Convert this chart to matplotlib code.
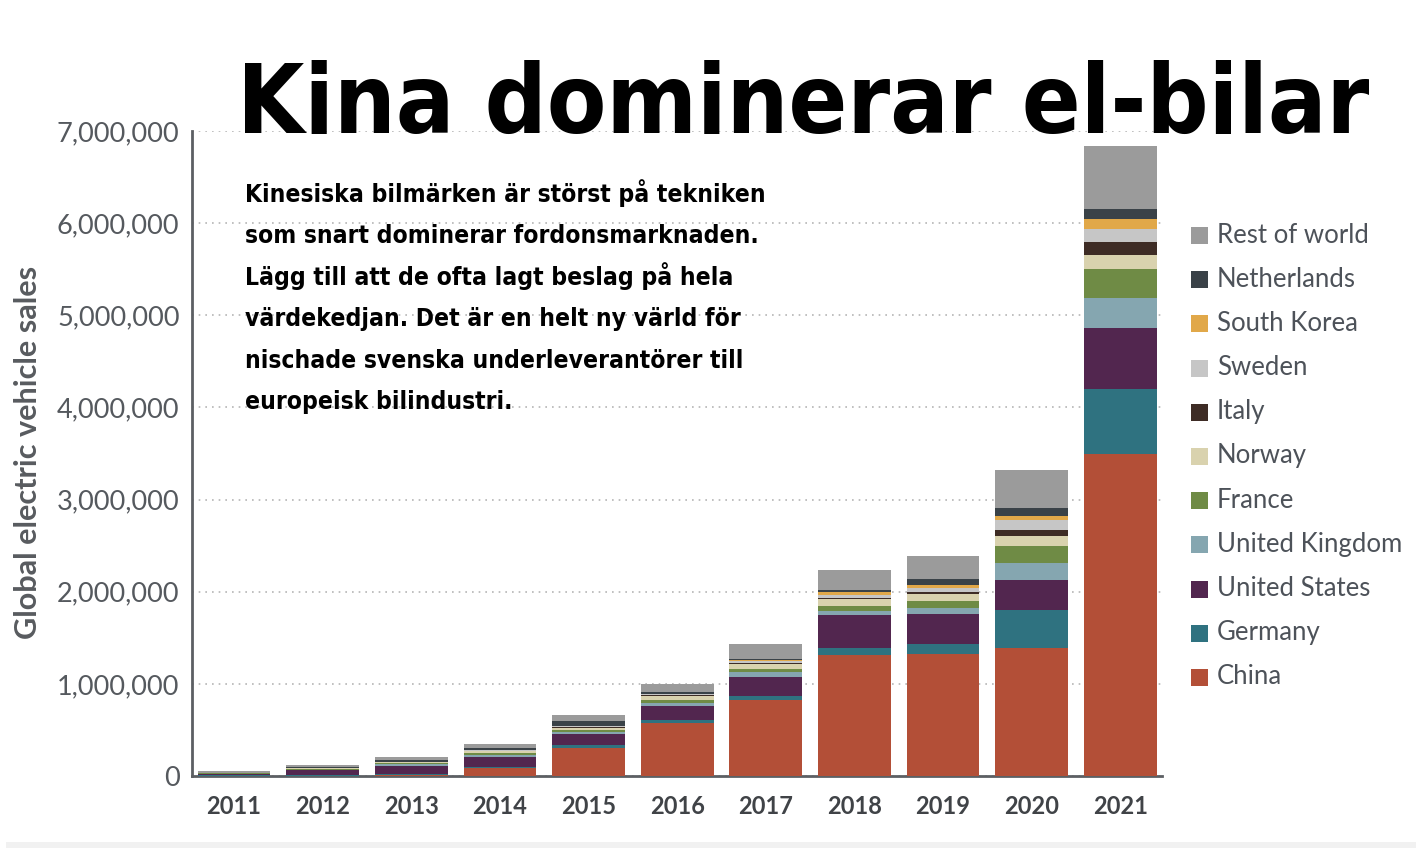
import numpy as np
import matplotlib.pyplot as plt
from matplotlib import font_manager
from matplotlib.font_manager import FontProperties
from matplotlib.patches import Rectangle


# ---------- data (thousands of vehicles) ----------
years = ["2011", "2012", "2013", "2014", "2015", "2016",
         "2017", "2018", "2019", "2020", "2021"]

china = [4, 5, 15, 83, 300, 574, 820, 1310, 1320, 1390, 3500]
germany = [2, 4, 10, 14, 32, 29, 47, 80, 108, 410, 695]
united_states = [18, 53, 83, 112, 119, 155, 210, 356, 325, 330, 665]
united_kingdom = [1, 7, 18, 15, 26, 36, 50, 49, 72, 180, 325]
france = [3, 11, 11, 29, 25, 36, 36, 55, 70, 190, 315]
norway = [2, 5, 12, 18, 21, 40, 55, 68, 79, 110, 150]
italy = [0, 1, 1, 2, 8, 7, 10, 15, 26, 60, 150]
sweden = [0, 1, 2, 4, 10, 13, 15, 30, 40, 110, 140]
south_korea = [0, 1, 1, 1, 3, 5, 11, 37, 35, 40, 105]
netherlands = [1, 9, 17, 22, 52, 20, 21, 20, 65, 90, 105]
rest_of_world = [23, 22, 36, 43, 61, 80, 159, 212, 253, 410, 690]

series = [
    ("China", china, "#b34f37"),
    ("Germany", germany, "#2f7280"),
    ("United States", united_states, "#52264f"),
    ("United Kingdom", united_kingdom, "#85a6b0"),
    ("France", france, "#6f8b45"),
    ("Norway", norway, "#d9d2ae"),
    ("Italy", italy, "#3e2c25"),
    ("Sweden", sweden, "#c6c6c6"),
    ("South Korea", south_korea, "#e1a849"),
    ("Netherlands", netherlands, "#3a4248"),
    ("Rest of world", rest_of_world, "#9b9b9b"),
]

title = "Kina dominerar el-bilar"
blurb = [
    "Kinesiska bilmärken är störst på tekniken",
    "som snart dominerar fordonsmarknaden.",
    "Lägg till att de ofta lagt beslag på hela",
    "värdekedjan. Det är en helt ny värld för",
    "nischade svenska underleverantörer till",
    "europeisk bilindustri.",
]

# ---------- fonts ----------
ttf = font_manager.fontManager.ttflist
names = {f.name for f in ttf}
sans = "Lato" if "Lato" in names else "DejaVu Sans"


def pick_condensed():
    # look for any bold narrow / condensed face, narrowest first
    order = ["ultra-condensed", "extra-condensed", "condensed", "semi-condensed"]
    best = None
    for f in ttf:
        st = str(f.stretch)
        narrowish = st in order or "Narrow" in f.name or "Condensed" in f.name
        bold = f.weight in (700, 800, 900, "bold", "heavy", "black")
        if narrowish and bold and "Mono" not in f.name and "Serif" not in f.name:
            rank = order.index(st) if st in order else 2
            if best is None or rank < best[0]:
                best = (rank, f.fname)
    if best:
        return FontProperties(fname=best[1])
    return FontProperties(family="DejaVu Sans", weight="bold")


narrow_fp = pick_condensed()

W, H = 1416, 868
fig = plt.figure(figsize=(W / 100, H / 100), dpi=100)
fig.patch.set_facecolor("white")


def px(x, y):
    return x / W, 1 - y / H


# axes box: x 192..1162 px, y 131..776 px
ax = fig.add_axes([192 / W, 1 - 776 / H, 970 / W, 645 / H])

x = np.arange(len(years))
bottom = np.zeros(len(years))
for name, vals, col in series:
    v = np.array(vals) * 1000
    ax.bar(x, v, width=0.82, bottom=bottom, color=col, linewidth=0, zorder=3)
    bottom += v

ax.set_xlim(-0.474, 10.47)
ax.set_ylim(0, 7_000_000)
ax.set_yticks(np.arange(0, 7_000_001, 1_000_000))
ax.set_yticklabels([f"{int(t):,}" for t in ax.get_yticks()])
ax.set_xticks(x)
ax.set_xticklabels(years)

ax.grid(axis="y", linestyle=(0, (1, 3)), color="#b5b5b5", linewidth=1.2, zorder=0)
for s in ["top", "right"]:
    ax.spines[s].set_visible(False)
for s in ["left", "bottom"]:
    ax.spines[s].set_color("#5c5f63")
    ax.spines[s].set_linewidth(2)

ax.tick_params(axis="both", length=0)
ax.tick_params(axis="y", pad=9, labelsize=19.5, labelcolor="#55595e")
ax.tick_params(axis="x", pad=14, labelsize=17, labelcolor="#404347")
for lab in ax.get_yticklabels():
    lab.set_fontfamily(sans)
for lab in ax.get_xticklabels():
    lab.set_fontfamily(sans)
    lab.set_fontweight("bold")

# y label
ylab = fig.text(*px(28, 452), "Global electric vehicle sales", rotation=90,
                ha="center", va="center", fontsize=18, fontweight="bold",
                color="#585b5f", family=sans)

# legend drawn by hand (top = Rest of world)
for i, (name, vals, col) in enumerate(reversed(series)):
    yc = 235 + i * 44.2
    fig.add_artist(Rectangle(px(1191, yc + 9), 17 / W, 17 / H,
                             transform=fig.transFigure, color=col, linewidth=0))
    fig.text(*px(1217, yc), name, ha="left", va="center", fontsize=18.5,
             color="#4d5259", family=sans)

# title and blurb
t = fig.text(*px(237, 133), title, ha="left", va="baseline",
             fontproperties=narrow_fp, color="black")
t.set_fontsize(91)
lines = []
for i, line in enumerate(blurb):
    ln = fig.text(*px(245, 202 + i * 41.4), line, ha="left", va="baseline",
                  fontproperties=narrow_fp, color="black")
    ln.set_fontsize(21)
    lines.append(ln)

# scale fonts so widths match the picture
fig.canvas.draw()
r = fig.canvas.get_renderer()
w = t.get_window_extent(r).width
t.set_fontsize(t.get_fontsize() * 1133 / w)
w = lines[0].get_window_extent(r).width
fs = min(lines[0].get_fontsize() * 520 / w, 27)
for ln in lines:
    ln.set_fontsize(fs)
h = ylab.get_window_extent(r).height
ylab.set_fontsize(ylab.get_fontsize() * 375 / h)

# thin light strip near the bottom edge
fig.add_artist(Rectangle((6 / W, 1 - 848 / H), 1, 6 / H, transform=fig.transFigure,
                         color="#f1f1f1", linewidth=0, zorder=-1))

fig.savefig("out.png", dpi=100)
